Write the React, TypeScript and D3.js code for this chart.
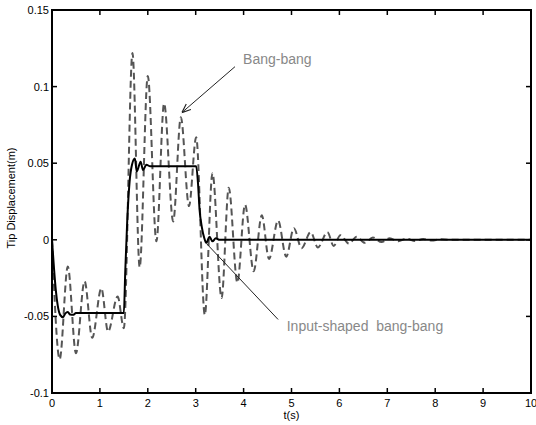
import React from "react";
import * as d3 from "d3";

const xTicks = [0, 1, 2, 3, 4, 5, 6, 7, 8, 9, 10];
const yTicks = [-0.1, -0.05, 0, 0.05, 0.1, 0.15];
const yTickLabels = ["-0.1", "-0.05", "0", "0.05", "0.1", "0.15"];

// Input-shaped bang-bang (solid)
const shapedT = [0, 0.04, 0.08, 0.12, 0.17, 0.23, 0.28, 0.33, 0.38, 0.44, 0.5, 0.6, 1.0, 1.5, 1.53, 1.57, 1.62, 1.67, 1.73, 1.77, 1.85, 1.9, 1.97, 2.05, 2.5, 3.01, 3.05, 3.08, 3.13, 3.18, 3.22, 3.29, 3.35, 3.42, 3.5, 10];
const shapedY = [0, -0.018, -0.033, -0.043, -0.049, -0.0505, -0.048, -0.0472, -0.0488, -0.049, -0.0478, -0.0477, -0.0477, -0.0477, -0.02, 0.012, 0.038, 0.049, 0.053, 0.0446, 0.051, 0.0455, 0.049, 0.048, 0.048, 0.048, 0.036, 0.02, 0.008, 0.001, -0.002, 0.002, -0.001, 0.001, 0, 0];

// Bang-bang (dashed)
const bangT = [0, 0.16, 0.33, 0.5, 0.68, 0.84, 1.03, 1.17, 1.37, 1.5, 1.68, 1.83, 2.0, 2.18, 2.34, 2.53, 2.69, 2.86, 3.01, 3.19, 3.35, 3.54, 3.69, 3.87, 4.03, 4.21, 4.38, 4.53, 4.72, 4.89, 5.05, 5.21, 5.4, 5.55, 5.75, 5.88, 6.02, 6.2, 6.36, 6.53, 6.7, 6.88, 7.05, 7.23, 7.4, 7.58, 7.75, 7.93, 8.1, 8.3, 10];
const bangY = [0, -0.078, -0.0174, -0.074, -0.027, -0.064, -0.0316, -0.06, -0.037, -0.0577, 0.122, -0.018, 0.107, -0.001, 0.089, 0.012, 0.08, 0.022, 0.067, -0.049, 0.0435, -0.038, 0.034, -0.028, 0.023, -0.0205, 0.016, -0.0125, 0.0126, -0.011, 0.0076, -0.0055, 0.005, -0.005, 0.005, -0.004, 0.003, -0.0025, 0.002, -0.002, 0.0015, -0.0015, 0.001, -0.001, 0.0008, -0.0008, 0.0005, -0.0005, 0.0003, 0, 0];

const W = 536;
const H = 425;
const L = 52, R = 531, T = 10, B = 393;
const FONT = "'Liberation Sans', Arial, Helvetica, sans-serif";

export default function App() {
  const x = d3.scaleLinear().domain([0, 10]).range([L, R]);
  const y = d3.scaleLinear().domain([-0.1, 0.15]).range([B, T]);

  const line = d3
    .line<[number, number]>()
    .x((d) => x(d[0]))
    .y((d) => y(d[1]))
    .curve(d3.curveMonotoneX);

  const shaped: [number, number][] = shapedT.map((t, i) => [t, shapedY[i]]);
  const bang: [number, number][] = bangT.map((t, i) => [t, bangY[i]]);

  const tick = 5;

  return (
    <svg
      width={W}
      height={H}
      style={{ position: "absolute", left: 0, top: 0, background: "#fff" }}
      fontFamily={FONT}
    >
      <defs>
        <marker id="arr" viewBox="0 0 10 10" refX="10" refY="5" markerWidth="9" markerHeight="9" orient="auto-start-reverse" markerUnits="userSpaceOnUse">
          <path d="M0,1 L10,5 L0,9" fill="none" stroke="#222" strokeWidth="1.3" />
        </marker>
      </defs>
      <rect x={0} y={0} width={W} height={H} fill="#fff" />
      <clipPath id="clip">
        <rect x={L} y={T} width={R - L} height={B - T} />
      </clipPath>

      {/* data lines */}
      <g clipPath="url(#clip)">
        <path d={line(bang) || ""} fill="none" stroke="#555" strokeWidth={2} strokeDasharray="7,4" />
        <path d={line(shaped) || ""} fill="none" stroke="#000" strokeWidth={2} />
      </g>

      {/* box */}
      <rect x={L} y={T} width={R - L} height={B - T} fill="none" stroke="#000" strokeWidth={2} />

      {/* x ticks */}
      {xTicks.map((t) => (
        <g key={"x" + t}>
          <line x1={x(t)} x2={x(t)} y1={B} y2={B - tick} stroke="#000" strokeWidth={1.5} />
          <line x1={x(t)} x2={x(t)} y1={T} y2={T + tick} stroke="#000" strokeWidth={1.5} />
          <text x={x(t)} y={407} fontSize={11} textAnchor="middle" fill="#000">
            {t}
          </text>
        </g>
      ))}
      {/* y ticks */}
      {yTicks.map((v, i) => (
        <g key={"y" + v}>
          <line x1={L} x2={L + tick} y1={y(v)} y2={y(v)} stroke="#000" strokeWidth={1.5} />
          <line x1={R} x2={R - tick} y1={y(v)} y2={y(v)} stroke="#000" strokeWidth={1.5} />
          <text x={L - 3} y={y(v) + 4} fontSize={11} textAnchor="end" fill="#000">
            {yTickLabels[i]}
          </text>
        </g>
      ))}

      <text x={x(5)} y={419} fontSize={11} textAnchor="middle" fill="#000">
        t(s)
      </text>
      <text
        transform={`translate(15,198) rotate(-90)`}
        fontSize={11}
        textAnchor="middle"
        fill="#000"
      >
        Tip Displacement(m)
      </text>

      {/* annotations */}
      <line x1={x(3.82)} y1={y(0.113)} x2={x(2.71)} y2={y(0.083)} stroke="#222" strokeWidth={1} markerEnd="url(#arr)" />
      <text x={x(3.99)} y={y(0.115)} fontSize={14} fill="#888">
        Bang-bang
      </text>
      <line x1={x(4.72)} y1={y(-0.052)} x2={x(3.23)} y2={y(-0.0026)} stroke="#222" strokeWidth={1} />
      <text x={x(4.9)} y={y(-0.0594)} fontSize={14} fill="#888" style={{ whiteSpace: "pre" }}>
        {"Input-shaped  bang-bang"}
      </text>
    </svg>
  );
}
